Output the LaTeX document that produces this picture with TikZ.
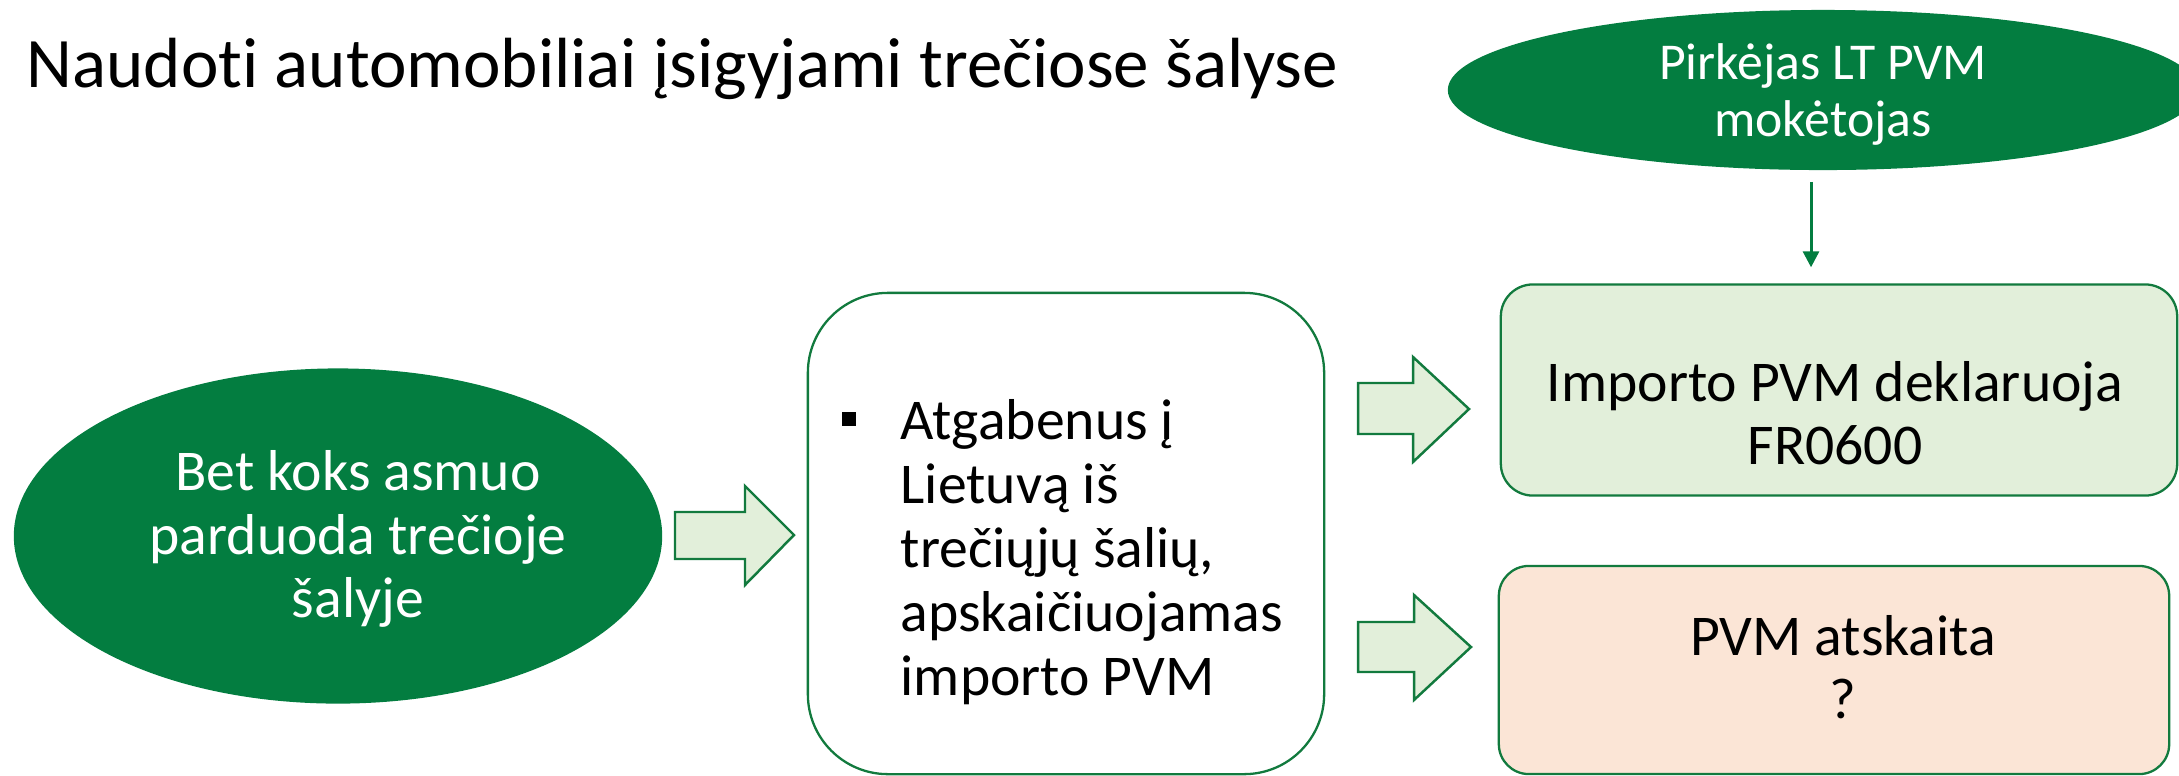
\documentclass[tikz,border=0pt]{standalone}
\usepackage{fontspec}
\setmainfont{Carlito}[Ligatures=CommonOff]
\usetikzlibrary{shapes.geometric, arrows.meta}

\definecolor{pvmgreen}{RGB}{3,125,64}
\definecolor{pvmedge}{RGB}{18,122,62}
\definecolor{lightgreen}{RGB}{226,239,218}
\definecolor{peach}{RGB}{251,229,214}

\tikzset{
	darkoval/.style={ellipse, fill=pvmgreen, draw=none, inner sep=0},
	roundbox/.style={rectangle, draw=pvmedge, line width=0.65pt, inner sep=0},
	bodytext/.style={font=\fontsize{16.4}{18}\selectfont, inner sep=0},
	fatarrow/.style={draw=pvmedge, fill=lightgreen, line width=0.7pt, line join=miter},
}

\begin{document}
\begin{tikzpicture}[x=0.01cm, y=-0.01cm]
				\useasboundingbox (0,0) rectangle (2179,775);
				\clip (0,0) rectangle (2179,775);
				
				% Заголовок
				\node[anchor=base west, font=\fontsize{20.2}{24}\selectfont, inner sep=0] (title) at (26,87) {Naudoti automobiliai įsigyjami trečiose šalyse};
				
				% Овалы
				\node[darkoval, minimum width=6.48cm, minimum height=3.35cm] (seller) at (338,536) {};
				\node[darkoval, minimum width=7.5cm, minimum height=1.6cm] (buyer) at (1823,90) {};
				\node[bodytext, white, align=center] at (358,539) {Bet koks asmuo\\parduoda trečioje\\šalyje};
				\node[bodytext, white, align=center, font=\fontsize{14.7}{16.2}\selectfont] at (1823,94) {Pirkėjas LT PVM\\mokėtojas};
				
				% Прямоугольники
				\node[roundbox, fill=white, rounded corners=0.8cm, minimum width=5.16cm, minimum height=4.81cm] (import) at (1066,533.5) {};
				\node[roundbox, fill=lightgreen, rounded corners=0.32cm, minimum width=6.76cm, minimum height=2.11cm] (decl) at (1839,390) {};
				\node[roundbox, fill=peach, rounded corners=0.3cm, minimum width=6.7cm, minimum height=2.08cm] (report) at (1834,670) {};
				
				% Тексты в прямоугольниках
				\node[fill=black, minimum size=0.14cm, inner sep=0] (bullet) at (849,419) {};
				\node[bodytext, anchor=west, align=left, font=\fontsize{16.4}{18.2}\selectfont] (importtext) at (900,552) {Atgabenus į\\Lietuvą iš\\trečiųjų šalių,\\apskaičiuojamas\\importo PVM};
				\node[bodytext, align=center] at (1835,413) {Importo PVM deklaruoja\\FR0600};
				\node[bodytext, align=center] at (1843,667) {PVM atskaita\\?};
				
				% Стрелки
				\draw[fatarrow] (675,512) -- (745,512) -- (745,486) -- (794,535) -- (745,585) -- (745,559) -- (675,559) -- cycle;
				\draw[fatarrow] (1358,383) -- (1413,383) -- (1413,357) -- (1469,409) -- (1413,462) -- (1413,434) -- (1358,434) -- cycle;
				\draw[fatarrow] (1358,622) -- (1414,622) -- (1414,595) -- (1471,647) -- (1414,700) -- (1414,672) -- (1358,672) -- cycle;
				\draw[pvmgreen, line width=0.85pt, -{Triangle[length=0.16cm, width=0.16cm]}] ([shift={(-12,11)}]buyer.south) -- ([shift={(-28,-16)}]decl.north);
			\end{tikzpicture}
\end{document}
